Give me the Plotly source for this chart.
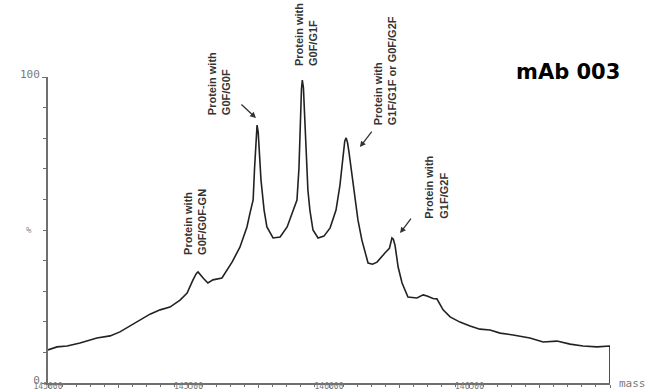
import plotly.graph_objects as go

# Deconvoluted intact-mass spectrum of mAb 003 (relative intensity, %)
mass = [
    145000, 145032, 145068, 145114, 145174, 145221, 145256, 145292, 145327, 145363,
    145399, 145434, 145470, 145495, 145516, 145528, 145534, 145541, 145552, 145569,
    145587, 145619, 145637, 145655, 145683, 145708, 145719, 145730, 145735, 145740,
    145744, 145748, 145752, 145758, 145769, 145779, 145801, 145826, 145851, 145872,
    145886, 145893, 145898, 145902, 145905, 145909, 145913, 145918, 145925, 145932,
    145943, 145961, 145982, 146004, 146025, 146039, 146050, 146056, 146061, 146066,
    146071, 146082, 146093, 146103, 146117, 146139, 146155, 146171, 146199, 146215,
    146224, 146229, 146235, 146246, 146260, 146281, 146313, 146335, 146349, 146370,
    146384, 146406, 146431, 146466, 146502, 146537, 146573, 146609, 146655, 146715,
    146762, 146811, 146858, 146904, 146954, 147000, 147000,
]
intensity = [
    10.8, 11.8, 12.1, 13.1, 14.7, 15.4, 16.7, 18.6, 20.6, 22.5,
    23.9, 24.8, 27.1, 29.4, 33.7, 35.8, 36.3, 35.5, 34.3, 32.7,
    33.7, 34.3, 36.9, 39.5, 44.4, 51.0, 55.6, 59.8, 70.0, 80.5,
    84.3, 82.0, 75.0, 66.3, 56.5, 51.0, 47.4, 47.7, 51.0, 56.5,
    59.8, 70.0, 86.0, 96.0, 99.0, 96.5, 88.0, 75.0, 63.0, 56.5,
    50.0, 47.4, 48.0, 50.7, 56.5, 64.7, 74.0, 79.0, 80.1, 78.5,
    75.5, 68.0, 61.4, 53.3, 46.7, 39.2, 38.8, 39.5, 42.5, 44.0,
    47.4, 47.0, 45.0, 37.9, 32.7, 28.1, 27.8, 28.8, 28.4, 27.6,
    27.5, 23.9, 21.6, 19.9, 18.6, 17.6, 17.3, 16.3, 15.7, 14.7,
    13.4, 13.7, 12.7, 12.1, 11.8, 12.1, 0,
]

x_tick_vals = [145000, 145250, 145500, 145750, 146000, 146250, 146500, 146750, 147000]
x_tick_text = ["145000", "", "145500", "", "146000", "", "146500", "", ""]
y_tick_vals = [0, 100]
y_tick_text = ["0", "100"]
y_max = 100

# Glycoform labels: (centre mass, bottom intensity, text)
glyco_labels = [
    (145523, 41.2, "Protein with<br>G0F/G0F-GN"),
    (145607, 86.9, "Protein with<br>G0F/G0F"),
    (145916, 102.9, "Protein with<br>G0F/G1F"),
    (146199, 83.7, "Protein with<br>G1F/G1F or G0F/G2F"),
    (146381, 52.9, "Protein with<br>G1F/G2F"),
]
# Pointer arrows: (head mass, head intensity, tail dx px, tail dy px)
glyco_arrows = [
    (145740, 86.6, -16, -15),
    (146110, 77.1, 13, -17),
    (146253, 49.0, 12, -16),
]

axis_grey = "#6f6f6f"
tick_font = dict(family="DejaVu Sans Mono", size=11, color="#7a7a7a")
x_tick_font = dict(family="DejaVu Sans Mono", size=8, color="#7a7a7a")

fig = go.Figure()
fig.add_trace(go.Scatter(
    x=mass, y=intensity, mode="lines",
    line=dict(color="#222222", width=1.6),
    cliponaxis=False, hoverinfo="skip", showlegend=False,
))

# Labels are placed on the paper's vertical scale so ones above 100 % still show
for mx, iy, txt in glyco_labels:
    fig.add_annotation(
        x=mx, y=iy / y_max, xref="x", yref="paper", text=txt, showarrow=False,
        textangle=-90, xanchor="center", yanchor="bottom", align="left",
        font=dict(family="Liberation Sans", size=11, color="#333333", weight="bold"),
    )

for mx, iy, dx, dy in glyco_arrows:
    fig.add_annotation(
        x=mx, y=iy, xref="x", yref="y", text="", showarrow=True,
        ax=dx, ay=dy, axref="pixel", ayref="pixel",
        arrowhead=2, arrowsize=0.9, arrowwidth=1.3, arrowcolor="#333333", standoff=0,
    )

fig.add_annotation(
    x=0.925, y=1.015, xref="paper", yref="paper", text="<b>mAb 003</b>",
    showarrow=False, xanchor="center", yanchor="middle",
    font=dict(family="DejaVu Sans", size=21, color="#000000"),
)
fig.add_annotation(
    x=-0.025, y=0.5, xref="paper", yref="paper", text="%", showarrow=False,
    xanchor="right", yanchor="middle", font=dict(family="DejaVu Sans Mono", size=9, color="#8a8a8a"),
)
fig.add_annotation(
    x=1.012, y=0.0, xref="paper", yref="paper", text="mass", showarrow=False,
    xanchor="left", yanchor="middle", font=tick_font,
)

fig.update_xaxes(
    range=[145000, 147000], tickmode="array", tickvals=x_tick_vals, ticktext=x_tick_text,
    ticks="outside", ticklen=3, tickwidth=1, tickcolor=axis_grey,
    minor=dict(dtick=50, ticklen=2, tickcolor=axis_grey, ticks="outside"),
    showline=True, linecolor=axis_grey, linewidth=1.5, showgrid=False, zeroline=False,
    tickfont=x_tick_font, ticklabelstandoff=-8, automargin=False,
)
fig.update_yaxes(
    range=[0, y_max], tickmode="array", tickvals=y_tick_vals, ticktext=y_tick_text,
    ticks="outside", ticklen=4, tickwidth=1, tickcolor=axis_grey,
    minor=dict(dtick=10, ticklen=3, tickcolor=axis_grey, ticks="outside"),
    showline=True, linecolor=axis_grey, linewidth=2, showgrid=False, zeroline=False,
    tickfont=tick_font, ticklabelstandoff=0, ticklabelshift=-3, automargin=False,
)
fig.update_layout(
    width=650, height=392,
    margin=dict(l=48, r=40, t=77, b=9, autoexpand=False),
    paper_bgcolor="white", plot_bgcolor="white",
)
fig.write_html("out.html")
